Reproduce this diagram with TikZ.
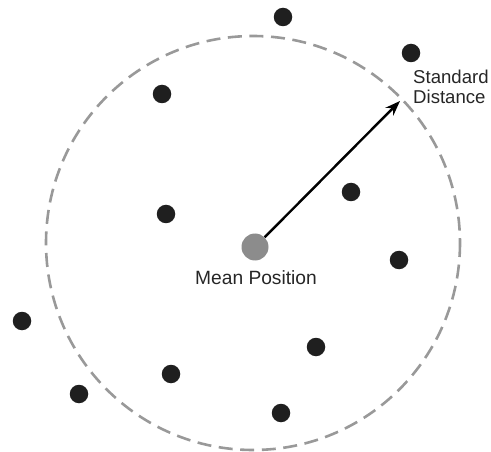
\documentclass[tikz,border=0pt]{standalone}
\usepackage{fontspec}
\setmainfont{Liberation Sans}
\usetikzlibrary{arrows.meta}
\begin{document}
\begin{tikzpicture}[x=1pt,y=-1pt,
  pt/.style={circle,fill=black!88,inner sep=0pt,minimum size=18.5pt},
  meanpt/.style={circle,fill=black!45,inner sep=0pt,minimum size=27pt},
  lbl/.style={font=\fontsize{19.2}{19.5}\selectfont,text=black!85,inner sep=0pt},
  sdlblstyle/.style={font=\fontsize{18.6}{19.5}\selectfont,text=black!85,inner sep=0pt},
  sdcircle/.style={draw=black!40,line width=2.6pt,dash pattern=on 14pt off 7.6pt},
  radius arrow/.style={draw=black,line width=2.4pt,-{Stealth[length=15pt,width=11pt]}}]
\useasboundingbox (0,0) rectangle (491,452);
\draw[sdcircle] (253,243) circle[radius=207];
\node[pt] (p1) at (283,17) {};
\node[pt] (p2) at (411,53) {};
\node[pt] (p3) at (162,94) {};
\node[pt] (p4) at (351,192) {};
\node[pt] (p5) at (166,214) {};
\node[pt] (p6) at (399,260) {};
\node[pt] (p7) at (22,321) {};
\node[pt] (p8) at (316,347) {};
\node[pt] (p9) at (171,374) {};
\node[pt] (p10) at (79,394) {};
\node[pt] (p11) at (281,413) {};
\node[meanpt] (mean) at (255,247) {};
\node[lbl,anchor=base] (meanlbl) at (256,284) {Mean Position};
\node[sdlblstyle,anchor=north west,align=left] (sdlbl) at (413,70) {Standard\\Distance};
\coordinate (tip) at (400,101);
\draw[radius arrow] (mean) -- (tip);
\end{tikzpicture}
\end{document}
